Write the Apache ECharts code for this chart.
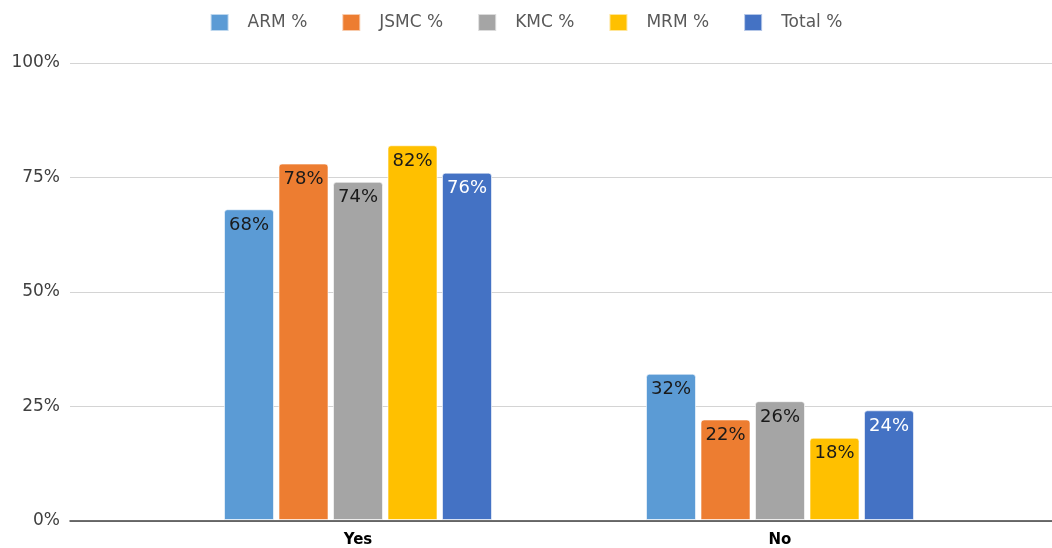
<!DOCTYPE html>
<html>
<head>
<meta charset="utf-8">
<script src="https://cdn.jsdelivr.net/npm/echarts@6/dist/echarts.min.js"></script>
<style>
  html, body { margin: 0; padding: 0; background: #fff; }
  #chart { width: 1052px; height: 548px; }
</style>
</head>
<body>
<div id="chart"></div>
<script>
// Survey answers per site, in percent
const categories = ['Yes', 'No'];
const seriesNames = ['ARM %', 'JSMC %', 'KMC %', 'MRM %', 'Total %'];
const armValues = [68, 32];
const jsmcValues = [78, 22];
const kmcValues = [74, 26];
const mrmValues = [82, 18];
const totalValues = [76, 24];
const yTicks = [0, 25, 50, 75, 100];

const colors = ['#5B9BD5', '#ED7D31', '#A5A5A5', '#FFC000', '#4472C4'];
const labelColors = ['#1a1a1a', '#1a1a1a', '#1a1a1a', '#1a1a1a', '#ffffff'];
const valueSets = [armValues, jsmcValues, kmcValues, mrmValues, totalValues];

const font = '"DejaVu Sans", Verdana, sans-serif';

const chart = echarts.init(document.getElementById('chart'), null, { renderer: 'canvas' });

const series = seriesNames.map((name, i) => ({
  name: name,
  type: 'bar',
  xAxisIndex: 1,
  yAxisIndex: 1,
  data: valueSets[i],
  barWidth: 50,
  barGap: '9%',
  itemStyle: {
    color: colors[i],
    borderRadius: [3, 3, 0, 0],
    borderColor: 'rgba(255,255,255,0.6)',
    borderWidth: 1
  },
  label: {
    show: true,
    position: 'insideTop',
    distance: 7,
    formatter: '{c}%',
    color: labelColors[i],
    fontFamily: font,
    fontSize: 18
  }
}));

chart.setOption({
  animation: false,
  color: colors,
  legend: {
    data: seriesNames,
    top: 8,
    left: 'center',
    icon: 'rect',
    itemWidth: 18,
    itemHeight: 17,
    itemGap: 34,
    itemStyle: { borderRadius: 2 },
    textStyle: {
      color: '#595959',
      fontFamily: font,
      fontSize: 17,
      padding: [0, 0, 0, 14]
    }
  },
  grid: [
    // full-width grid carrying the value scale and gridlines
    { left: 70, right: 0, top: 63, bottom: 27 },
    // inner grid carrying the category bars
    { left: 147, right: 61, top: 63, bottom: 27 }
  ],
  xAxis: [
    {
      gridIndex: 0,
      type: 'category',
      data: categories,
      axisLine: { show: true, lineStyle: { color: '#404040', width: 1.5 } },
      axisTick: { show: false },
      axisLabel: { show: false }
    },
    {
      gridIndex: 1,
      type: 'category',
      data: categories,
      axisLine: { show: false },
      axisTick: { show: false },
      axisLabel: {
        color: '#000',
        fontWeight: 'bold',
        fontFamily: font,
        fontSize: 15,
        margin: 13
      }
    }
  ],
  yAxis: [
    {
      gridIndex: 0,
      type: 'value',
      min: yTicks[0],
      max: yTicks[yTicks.length - 1],
      interval: yTicks[1] - yTicks[0],
      axisLine: { show: false },
      axisTick: { show: false },
      axisLabel: {
        formatter: '{value}%',
        color: '#404040',
        fontFamily: font,
        fontSize: 17,
        margin: 10
      },
      splitLine: { lineStyle: { color: '#d4d4d4', width: 1 } }
    },
    {
      gridIndex: 1,
      type: 'value',
      min: yTicks[0],
      max: yTicks[yTicks.length - 1],
      interval: yTicks[1] - yTicks[0],
      show: false,
      splitLine: { show: false }
    }
  ],
  series: series
});
</script>
</body>
</html>
